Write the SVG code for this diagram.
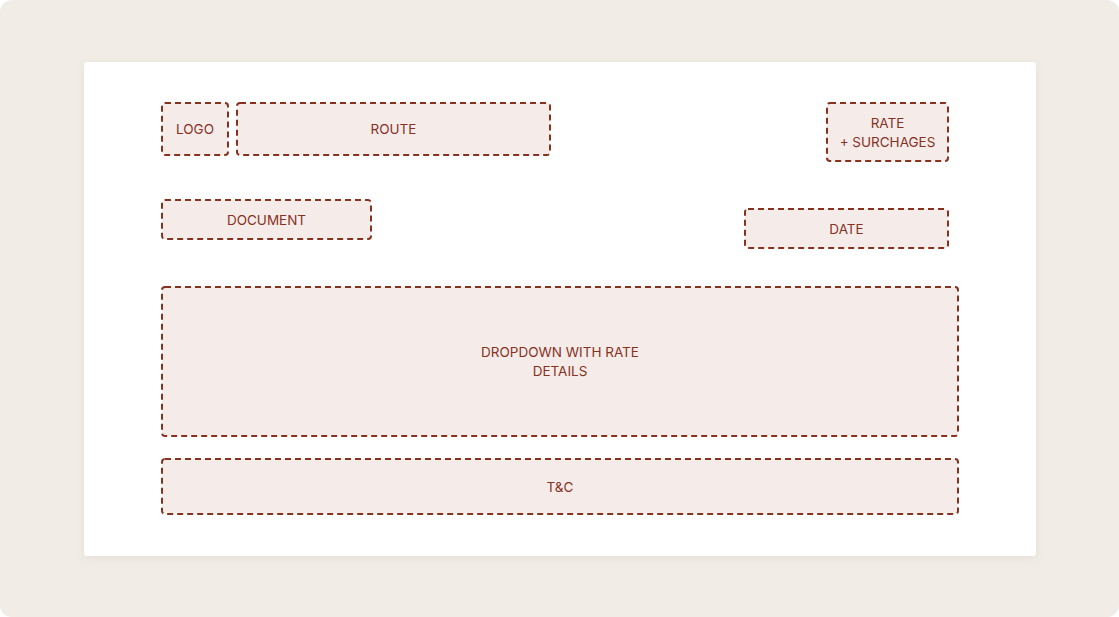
<svg xmlns="http://www.w3.org/2000/svg" width="1119" height="617" viewBox="0 0 1119 617">
<defs>
<style>
.box{fill:#f5ecea;stroke:#87311f;stroke-width:2;stroke-dasharray:6 4}
.lbl{font-family:Inter,"Liberation Sans",sans-serif;font-size:13.5px;fill:#87311f;text-anchor:middle;dominant-baseline:central}
</style>
<filter id="sh" x="-5%" y="-5%" width="110%" height="115%">
<feDropShadow dx="0" dy="2" stdDeviation="4" flood-color="#8a7a60" flood-opacity="0.12"/>
</filter>
</defs>
<rect x="0" y="0" width="1119" height="617" fill="#ffffff"/>
<rect x="0" y="0" width="1119" height="617" rx="12" fill="#f1ece6"/>
<rect x="84" y="62" width="952" height="494" rx="3" fill="#ffffff" filter="url(#sh)"/>
<g id="logo"><rect class="box" x="162" y="103" width="66" height="52" rx="3"/><text class="lbl" x="195" y="129">LOGO</text></g>
<g id="route"><rect class="box" x="237" y="103" width="313" height="52" rx="3"/><text class="lbl" x="393.5" y="129">ROUTE</text></g>
<g id="rate"><rect class="box" x="827" y="103" width="121" height="58" rx="3"/><text class="lbl" x="887.5" y="123">RATE</text><text class="lbl" x="887.5" y="142">+ SURCHAGES</text></g>
<g id="document"><rect class="box" x="162" y="200" width="209" height="39" rx="3"/><text class="lbl" x="266.5" y="219.5">DOCUMENT</text></g>
<g id="date"><rect class="box" x="745" y="209" width="203" height="39" rx="3"/><text class="lbl" x="846.5" y="228.5">DATE</text></g>
<g id="dropdown"><rect class="box" x="162" y="287" width="796" height="149" rx="3"/><text class="lbl" x="560" y="352">DROPDOWN WITH RATE</text><text class="lbl" x="560" y="371">DETAILS</text></g>
<g id="tc"><rect class="box" x="162" y="459" width="796" height="55" rx="3"/><text class="lbl" x="560" y="486.5">T&amp;C</text></g>
<g id="connectors"></g>
</svg>
